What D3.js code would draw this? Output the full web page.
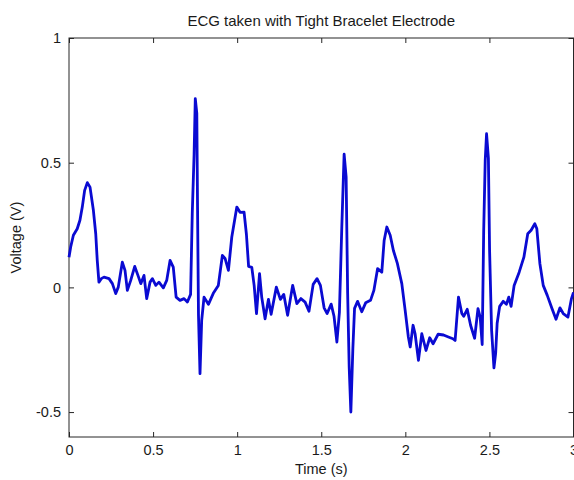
<!DOCTYPE html>
<html>
<head>
<meta charset="utf-8">
<script src="https://cdn.jsdelivr.net/npm/d3@7"></script>
<style>
  html, body { margin: 0; padding: 0; background: #fff; }
  text { font-family: "Liberation Sans", Arial, Helvetica, sans-serif; fill: #1a1a1a; }
</style>
</head>
<body>
<svg id="chart" width="574" height="480"></svg>
<script>
// ECG trace (time in s, voltage in V)
const time = [
  0.000, 0.010, 0.026, 0.049, 0.065, 0.079, 0.093, 0.109, 0.125, 0.145,
  0.159, 0.168, 0.178, 0.192, 0.208, 0.238, 0.258, 0.278, 0.293, 0.317,
  0.333, 0.347, 0.367, 0.391, 0.410, 0.427, 0.446, 0.462, 0.482, 0.496,
  0.516, 0.535, 0.561, 0.581, 0.601, 0.620, 0.637, 0.660, 0.684, 0.704,
  0.723, 0.733, 0.744, 0.751, 0.760, 0.764, 0.770, 0.779, 0.789, 0.803,
  0.829, 0.858, 0.888, 0.912, 0.928, 0.948, 0.968, 0.998, 1.017, 1.041,
  1.055, 1.068, 1.087, 1.101, 1.115, 1.133, 1.146, 1.166, 1.186, 1.202,
  1.233, 1.257, 1.277, 1.300, 1.330, 1.355, 1.379, 1.404, 1.427, 1.452,
  1.475, 1.495, 1.517, 1.535, 1.559, 1.576, 1.593, 1.608, 1.622, 1.636,
  1.648, 1.657, 1.666, 1.676, 1.688, 1.698, 1.716, 1.741, 1.764, 1.793,
  1.813, 1.835, 1.860, 1.874, 1.890, 1.910, 1.929, 1.953, 1.979, 1.999,
  2.018, 2.029, 2.046, 2.058, 2.078, 2.098, 2.123, 2.145, 2.165, 2.195,
  2.227, 2.256, 2.283, 2.296, 2.316, 2.336, 2.347, 2.368, 2.388, 2.412,
  2.432, 2.445, 2.457, 2.466, 2.475, 2.483, 2.494, 2.501, 2.513, 2.527,
  2.537, 2.546, 2.561, 2.582, 2.601, 2.615, 2.629, 2.647, 2.677, 2.705,
  2.728, 2.748, 2.770, 2.782, 2.800, 2.820, 2.844, 2.872, 2.896, 2.919,
  2.939, 2.967, 2.988, 3.000
];
const voltage = [
  0.121, 0.162, 0.209, 0.235, 0.269, 0.322, 0.389, 0.420, 0.402, 0.309,
  0.215, 0.108, 0.021, 0.035, 0.041, 0.035, 0.015, -0.025, 0.001, 0.101,
  0.068, -0.012, 0.028, 0.084, 0.048, 0.015, 0.048, -0.045, 0.021, 0.035,
  0.008, 0.021, -0.002, 0.028, 0.108, 0.081, -0.039, -0.052, -0.045, -0.059,
  -0.028, 0.296, 0.536, 0.757, 0.698, 0.349, -0.112, -0.346, -0.132, -0.039,
  -0.068, -0.024, 0.008, 0.128, 0.116, 0.068, 0.202, 0.322, 0.301, 0.302,
  0.213, 0.084, 0.080, 0.008, -0.105, 0.055, -0.039, -0.126, -0.048, -0.108,
  0.001, -0.048, -0.028, -0.112, 0.008, -0.065, -0.045, -0.059, -0.096, 0.012,
  0.035, 0.008, -0.082, -0.105, -0.067, -0.116, -0.219, -0.100, 0.237, 0.534,
  0.442, -0.024, -0.317, -0.500, -0.245, -0.084, -0.056, -0.098, -0.062, -0.052,
  -0.012, 0.075, 0.061, 0.188, 0.242, 0.209, 0.148, 0.095, 0.015, -0.092,
  -0.199, -0.239, -0.152, -0.186, -0.293, -0.186, -0.253, -0.202, -0.226, -0.188,
  -0.191, -0.199, -0.206, -0.213, -0.039, -0.105, -0.116, -0.088, -0.152, -0.204,
  -0.085, -0.119, -0.229, 0.229, 0.509, 0.616, 0.517, 0.148, -0.172, -0.323,
  -0.265, -0.144, -0.076, -0.056, -0.068, -0.039, -0.076, 0.008, 0.061, 0.121,
  0.215, 0.229, 0.255, 0.235, 0.096, 0.008, -0.032, -0.085, -0.128, -0.082,
  -0.105, -0.119, -0.045, -0.020
];

const xTicks = [0, 0.5, 1, 1.5, 2, 2.5, 3];
const yTicks = [-0.5, 0, 0.5, 1];

const titleText = "ECG taken with Tight Bracelet Electrode";
const xLabel = "Time (s)";
const yLabel = "Voltage (V)";

(function() {
  // Layout ---------------------------------------------
  const svg = d3.select("#chart");
  const mLeft = 69, mRight = 573.5, mTop = 38, mBottom = 437;
  const fontSize = 14.5;

  const x = d3.scaleLinear().domain([0, 3]).range([mLeft, mRight]);
  const y = d3.scaleLinear().domain([-0.6, 1]).range([mBottom, mTop]);

  const fmt = d => String(d); // keep plain hyphen like matlab

  // Axes (ticks point inwards, box all round)
  svg.append("g")
    .attr("transform", `translate(0,${mBottom})`)
    .call(d3.axisBottom(x).tickValues(xTicks).tickFormat(fmt).tickSize(-5).tickPadding(8));
  svg.append("g")
    .attr("transform", `translate(0,${mTop})`)
    .call(d3.axisTop(x).tickValues(xTicks).tickFormat("").tickSize(-5));
  svg.append("g")
    .attr("transform", `translate(${mLeft},0)`)
    .call(d3.axisLeft(y).tickValues(yTicks).tickFormat(fmt).tickSize(-5).tickPadding(8));
  svg.append("g")
    .attr("transform", `translate(${mRight},0)`)
    .call(d3.axisRight(y).tickValues(yTicks).tickFormat("").tickSize(-5));

  svg.selectAll(".domain").remove();
  svg.selectAll(".tick line").attr("stroke", "#262626");
  svg.selectAll(".tick text").attr("font-size", fontSize).attr("fill", "#1a1a1a")
    .style("font-family", "'Liberation Sans', Arial, sans-serif");

  svg.append("rect")
    .attr("x", mLeft).attr("y", mTop)
    .attr("width", mRight - mLeft).attr("height", mBottom - mTop)
    .attr("fill", "none")
    .attr("stroke", "#262626")
    .attr("stroke-width", 1);

  // The trace
  const pts = time.map((t, i) => ({ t: t, v: voltage[i] }));
  const line = d3.line()
    .x(d => x(d.t))
    .y(d => y(d.v));

  svg.append("path")
    .datum(pts)
    .attr("fill", "none")
    .attr("stroke", "#0a0ad2")
    .attr("stroke-width", 2.8)
    .attr("stroke-linejoin", "round")
    .attr("d", line);

  // Labels
  svg.append("text")
    .attr("x", (mLeft + mRight) / 2).attr("y", 26)
    .attr("text-anchor", "middle")
    .attr("font-size", 15)
    .text(titleText);

  svg.append("text")
    .attr("x", (mLeft + mRight) / 2).attr("y", 474)
    .attr("text-anchor", "middle")
    .attr("font-size", fontSize)
    .text(xLabel);

  svg.append("text")
    .attr("transform", `translate(21,${(mTop + mBottom) / 2}) rotate(-90)`)
    .attr("text-anchor", "middle")
    .attr("font-size", fontSize)
    .text(yLabel);
})();
</script>
</body>
</html>
